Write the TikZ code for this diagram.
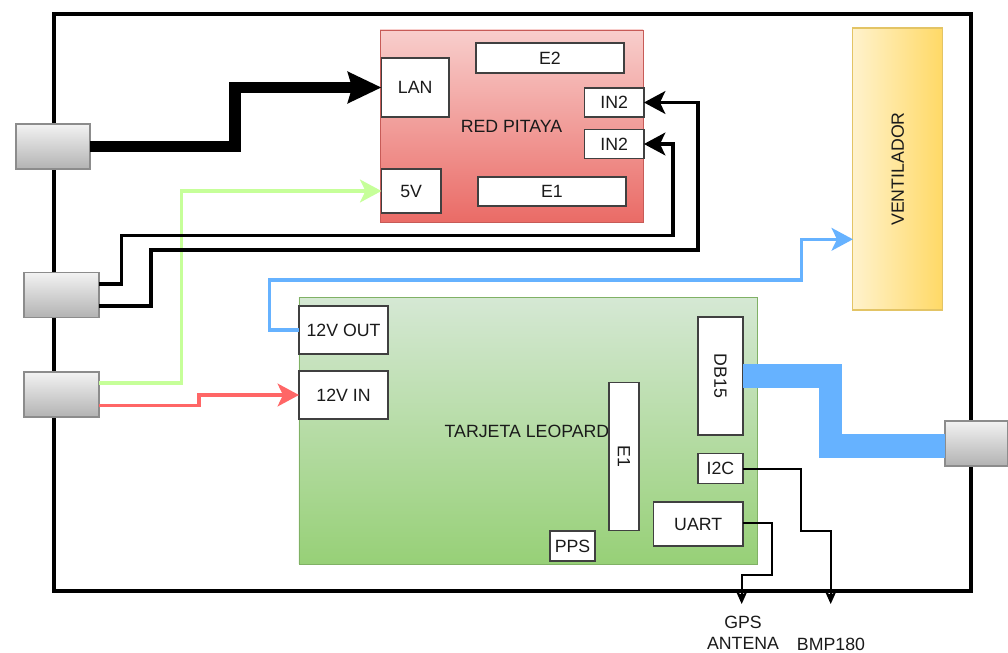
\documentclass[tikz,border=0pt]{standalone}
\usepackage{fontspec}
\setmainfont{Liberation Sans}
\usetikzlibrary{arrows.meta}
\definecolor{txt}{HTML}{1A1A1A}
\definecolor{wireblue}{HTML}{66B2FF}
\definecolor{wiregreen}{HTML}{C6FF99}
\definecolor{wirered}{HTML}{FF6666}
\definecolor{boardtop}{HTML}{D5E8D4}
\definecolor{boardbot}{HTML}{97D077}
\definecolor{fanl}{HTML}{FFF2CC}
\definecolor{fanr}{HTML}{FFD966}
\definecolor{fanedge}{HTML}{E3C465}
\definecolor{redtop}{HTML}{F8CECC}
\definecolor{redbot}{HTML}{EA6B66}
\tikzset{
  sz/.style 2 args={minimum width=#1*0.75pt,minimum height=#2*0.75pt,inner sep=0pt,outer sep=0pt},
  base/.style={font=\fontsize{13.3}{15.75}\selectfont,text=txt},
  frame/.style={draw=black,line width=3pt,fill=white},
  plug/.style={base,draw=black!45,line width=1.1pt,top color=black!5,bottom color=black!30},
  port/.style={base,draw=black!75,line width=0.9pt,fill=white},
  redboard/.style={base,draw=redbot!85!black,line width=0.6pt,top color=redtop,bottom color=redbot},
  greenboard/.style={base,draw=boardbot!85!black,line width=0.6pt,top color=boardtop,bottom color=boardbot},
  fanbox/.style={base,draw=fanedge,line width=0.8pt,left color=fanl,right color=fanr},
  lbl/.style={base,inner sep=0pt,outer sep=0pt},
  wire/.style={line width=2.6pt,black,-{Stealth[length=16pt,width=17pt,inset=4pt]}},
  thin wire/.style={line width=1.5pt,black,-{Stealth[length=9pt,width=8pt,inset=2pt]}},
  color wire/.style={line width=2.6pt,#1,-{Stealth[length=16pt,width=17pt,inset=4pt]}},
  fat wire/.style={line width=8.6pt,black,-{Stealth[length=25pt,width=23pt,inset=3pt]}},
  band/.style={line width=17.6pt,wireblue},
}
\begin{document}
\begin{tikzpicture}[x=0.75pt,y=-0.75pt]
\useasboundingbox (0,0) rectangle (1008,653);
\node[frame,sz={917}{577}] (outer) at (512,302) {};
% plugs
\node[plug,sz={74}{45}] (plugA) at (53,146.7) {};
\node[plug,sz={75}{45}] (plugB) at (61.5,295) {};
\node[plug,sz={75}{45}] (plugC) at (61.5,394.7) {};
\node[plug,sz={63}{45}] (plugD) at (976.5,443.3) {};
% red board
\node[redboard,sz={263}{192.5}] (red) at (511.5,126.2) {RED PITAYA};
\node[port,sz={67.5}{59}] (lan) at (415.2,87.5) {LAN};
\node[port,sz={59.5}{44}] (fivev) at (411.2,191) {5V};
\node[port,sz={148}{30}] (e2) at (550,58) {E2};
\node[port,sz={148}{29}] (e1r) at (552,191.5) {E1};
\node[port,sz={59.5}{29}] (ina) at (614.2,102.5) {IN2};
\node[port,sz={59.5}{29}] (inb) at (614.2,144) {IN2};
% fan
\node[fanbox,sz={89.5}{282}] (fan) at (897.7,169) {\rotatebox{90}{VENTILADOR}};
% green board
\node[greenboard,sz={458.5}{266.5}] (leo) at (528.2,430.7) {};
\node[lbl] (leolbl) at (527,431) {TARJETA LEOPARD};
\node[port,sz={89}{48}] (vout) at (343.5,330) {12V OUT};
\node[port,sz={89}{48}] (vin) at (343.5,395) {12V IN};
\node[port,sz={30}{148}] (e1l) at (624,456.5) {\rotatebox{-90}{E1}};
\node[port,sz={45}{118}] (db) at (720.5,376) {\rotatebox{-90}{DB15}};
\node[port,sz={45}{30}] (i2c) at (720.5,468.5) {I2C};
\node[port,sz={89.5}{44}] (uart) at (698.2,524) {UART};
\node[port,sz={45}{30}] (pps) at (572.5,546) {PPS};
% outside labels
\node[lbl,align=center] (gps) at (743,633) {GPS\\ANTENA};
\node[lbl] (bmp) at (831,644) {BMP180};
\coordinate (gpsend) at (741.7,604);
\coordinate (bmpend) at (830.7,604);
% connectors
\draw[color wire=wiregreen] ([yshift=8.8pt]plugC.east) -| (181.5,191) -- (fivev.west);
\draw[color wire=wirered] ([yshift=-8.25pt]plugC.east) -| (199,395) -- (vin.west);
\draw[color wire=wireblue] (vout.west) -| (269.5,280) -| (801.7,239.3) -- (801.7,239.3 -| fan.west);
\draw[fat wire] (plugA.east) -| (235,87.5) -- (lan.west);
\draw[wire] ([yshift=8.25pt]plugB.east) -| (121.7,235.3) -| (673,144) -- (inb.east);
\draw[wire] ([yshift=-8.25pt]plugB.east) -| (151,250) -| (698,102.5) -- (ina.east);
\draw[band] (db.east) -| (830.5,446) -- (830.5,446 -| plugD.west);
\draw[thin wire] (i2c.east) -| (801,531) -| (bmpend);
\draw[thin wire] ([yshift=0.75pt]uart.east) -| (771.7,575) -| (gpsend);
\end{tikzpicture}
\end{document}
